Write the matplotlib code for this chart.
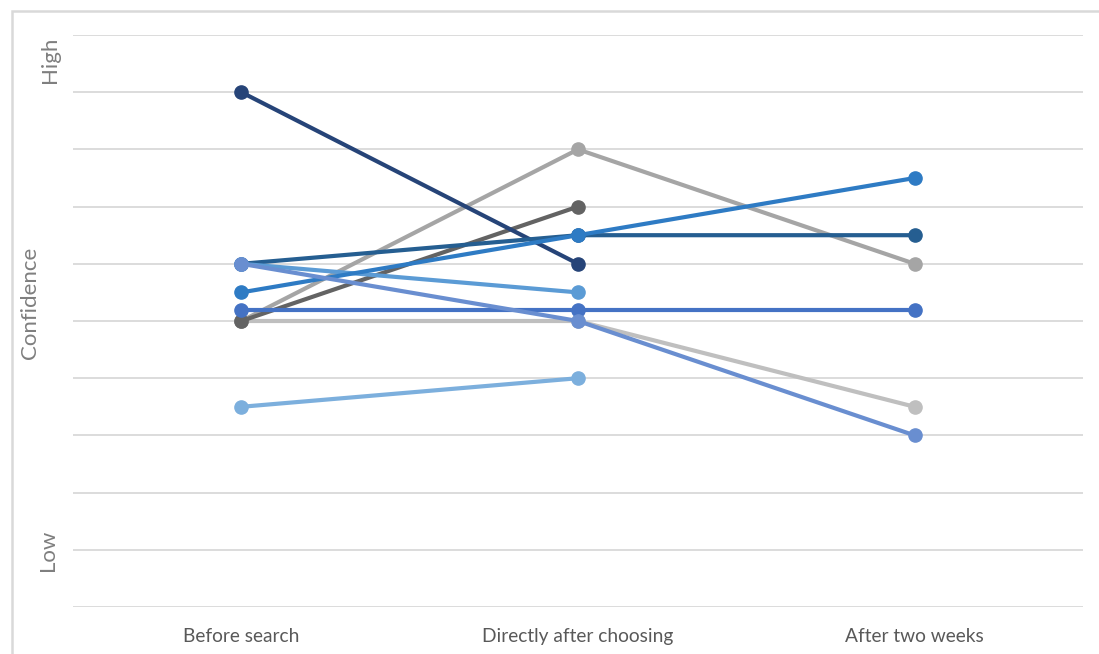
import numpy as np
import matplotlib
matplotlib.use("Agg")
import matplotlib.pyplot as plt
from matplotlib.patches import Rectangle

plt.rcParams['font.family'] = ['Lato', 'DejaVu Sans']

# Measurement moments along the x axis
stages = ["Before search", "Directly after choosing", "After two weeks"]

# Confidence per participant (0 = low, 10 = high); NaN where no rating was given
p_navy      = [9.0, 6.0, np.nan]
p_lightgray = [5.0, 8.0, 6.0]
p_darkgray  = [5.0, 7.0, np.nan]
p_midblue   = [5.5, 6.5, 7.5]
p_deepblue  = [6.0, 6.5, 6.5]
p_skyblue   = [6.0, 5.5, np.nan]
p_periwink  = [6.0, 5.0, 3.0]
p_royal     = [5.2, 5.2, 5.2]
p_silver    = [5.0, 5.0, 3.5]
p_paleblue  = [3.5, 4.0, np.nan]

series = [
    (p_silver,    "#BFBFBF"),
    (p_paleblue,  "#7CAFDD"),
    (p_lightgray, "#A5A5A5"),
    (p_darkgray,  "#636363"),
    (p_navy,      "#264478"),
    (p_deepblue,  "#255E91"),
    (p_skyblue,   "#5B9BD5"),
    (p_midblue,   "#2E7BC4"),
    (p_royal,     "#4472C4"),
    (p_periwink,  "#698ED0"),
]

fig = plt.figure(figsize=(10.99, 6.54), dpi=100)
ax = fig.add_axes([73/1099, 47/654, 1010/1099, 572/654])

x = np.arange(len(stages))
for vals, col in series:
    v = np.array(vals, dtype=float)
    m = ~np.isnan(v)
    ax.plot(x[m], v[m], color=col, lw=3.0, marker='o', ms=9.5,
            solid_capstyle='round', zorder=3)

ax.set_xlim(-0.5, 2.5)
ax.set_ylim(0, 10)
ax.set_yticks(range(0, 11))
ax.set_yticklabels([])
ax.set_xticks(x)
ax.set_xticklabels(stages, fontsize=13.8, color="#595959")
ax.tick_params(axis='both', length=0)
ax.tick_params(axis='x', pad=15)
ax.grid(axis='y', color="#D9D9D9", lw=1.3, zorder=0)
for s in ax.spines.values():
    s.set_visible(False)

# Axis annotations
fig.text(30/1099, 1 - 303/654, "Confidence", rotation=90, ha='center', va='center',
         fontsize=16, color="#7F7F7F")
fig.text(50/1099, 1 - 60/654, "High", rotation=90, ha='center', va='center',
         fontsize=16, color="#7F7F7F")
fig.text(48/1099, 1 - 550/654, "Low", rotation=90, ha='center', va='center',
         fontsize=16, color="#7F7F7F")

# Chart area frame
fig.patches.append(Rectangle((12/1099, -0.1), 1.2, 0.1 + (1 - 11/654),
                             transform=fig.transFigure, fill=False,
                             edgecolor="#D9D9D9", lw=1.8, zorder=0))

fig.savefig("out.png", dpi=100, facecolor="white")
